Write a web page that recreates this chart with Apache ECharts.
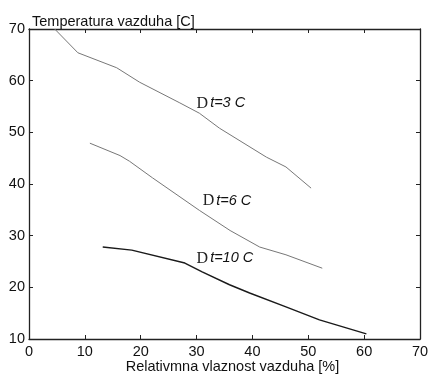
<!DOCTYPE html>
<html><head><meta charset="utf-8">
<script src="https://cdn.jsdelivr.net/npm/echarts@6/dist/echarts.min.js"></script>
<style>html,body{margin:0;padding:0;background:#fff}#c{width:428px;height:376px}</style>
</head><body><div id="c"></div>
<script>
const xTicks = [0,10,20,30,40,50,60,70];
const yTicks = [10,20,30,40,50,60,70];
const curve3C = [[4.6,70],[8.75,65.4],[15.7,62.5],[19.8,59.7],[27,55.7],[30.5,53.7],[34.1,50.8],[42.5,45.2],[46,43.3],[50.5,39.2]];
const curve6C = [[10.9,47.9],[16.3,45.5],[18,44.4],[22.1,41.2],[30.5,34.9],[36,31],[41.3,27.8],[46,26.3],[52.5,23.7]];
const curve10C = [[13.2,27.8],[18.4,27.2],[27.9,24.7],[31,23],[35.9,20.5],[39.5,18.9],[46,16.2],[52,13.7],[60.4,11]];
const labelNames = ['t=3 C','t=6 C','t=10 C'];
const labelPos = [[30,55.6],[31.1,36.8],[30,25.6]];
const yTitle = 'Temperatura vazduha [C]';
const xTitle = 'Relativmna vlaznost vazduha [%]';

const font = 'Liberation Sans, Arial, sans-serif';
const chart = echarts.init(document.getElementById('c'));
function lbl(i){
  return {
    symbol:'circle', symbolSize:0,
    data:[{coord:labelPos[i], value:labelNames[i]}],
    label:{show:true, position:'right', distance:0,
      formatter:'{d|D}{t|'+labelNames[i]+'}',
      rich:{
        d:{fontFamily:'Liberation Serif, DejaVu Serif, serif', fontSize:16, color:'#222'},
        t:{fontFamily:font, fontStyle:'italic', fontSize:14.5, color:'#111', padding:[0,0,0,2]}
      }}
  };
}
const axisCommon = {
  min:0, max:70, interval:10, type:'value',
  axisLine:{show:true, onZero:false, lineStyle:{color:'#222', width:1.3}},
  axisTick:{show:true, inside:true, length:4, lineStyle:{color:'#222'}},
  splitLine:{show:false}
};
chart.setOption({
  animation:false,
  backgroundColor:'#fff',
  title:{text:yTitle, left:27, top:9, textStyle:{fontFamily:font, fontSize:14.5, fontWeight:'normal', color:'#111'}},
  grid:{left:29, right:8, top:29, bottom:37, containLabel:false, outerBoundsMode:'none'},
  xAxis:[
    Object.assign({}, axisCommon, {position:'bottom', name:xTitle, nameLocation:'middle', nameGap:20,
      nameMoveOverlap:false,
      nameTextStyle:{fontFamily:font, fontSize:14.5, color:'#111', padding:[0,0,0,16]},
      axisLabel:{show:true, margin:5, fontFamily:font, fontSize:14.5, color:'#111',
        formatter:v=>xTicks.includes(v)?String(v):''}}),
    Object.assign({}, axisCommon, {position:'top', axisLabel:{show:false}})
  ],
  yAxis:[
    Object.assign({}, axisCommon, {min:10, max:70, position:'left',
      axisLabel:{show:true, margin:4, fontFamily:font, fontSize:14.5, color:'#111',
        formatter:v=>yTicks.includes(v)?String(v):''}}),
    Object.assign({}, axisCommon, {min:10, max:70, position:'right', axisLabel:{show:false}})
  ],
  series:[
    {type:'line', data:curve3C, symbol:'none', lineStyle:{color:'#777', width:1}, markPoint:lbl(0)},
    {type:'line', data:curve6C, symbol:'none', lineStyle:{color:'#777', width:1}, markPoint:lbl(1)},
    {type:'line', data:curve10C, symbol:'none', lineStyle:{color:'#1a1a1a', width:1.4}, markPoint:lbl(2)}
  ]
});
</script></body></html>
